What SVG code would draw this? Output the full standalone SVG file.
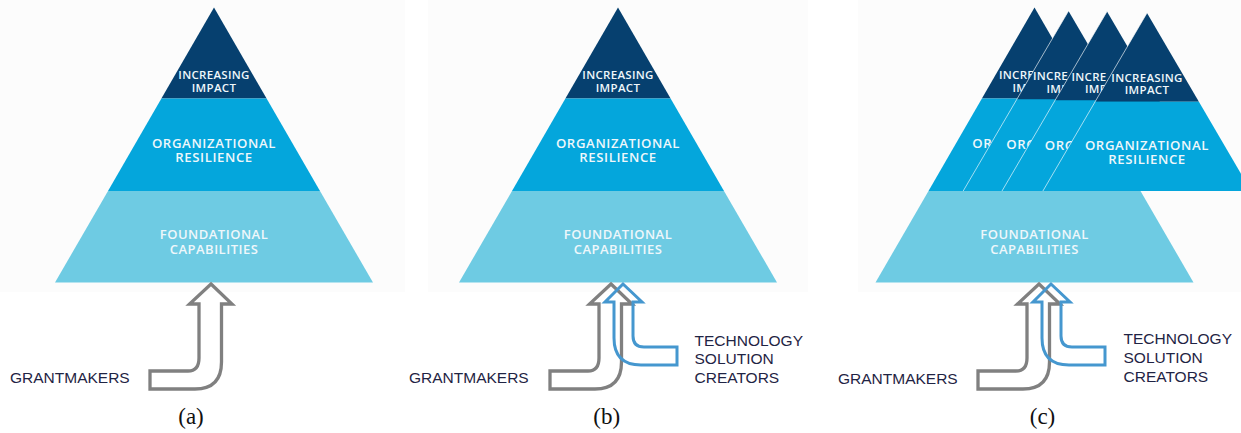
<svg xmlns="http://www.w3.org/2000/svg" width="1241" height="433" viewBox="0 0 1241 433">
  <style>
    .bg { fill: #fcfcfc; }
    .dark { fill: #06406f; }
    .mid { fill: #04a6dc; }
    .light { fill: #6ecbe3; }
    .pt { font-family: "Open Sans", "Noto Sans", sans-serif; font-weight: 600; fill: #eef7fb; text-anchor: middle; }
    .st { text-anchor: start; }
    .s1 { font-size: 11.5px; letter-spacing: 0.3px; }
    .s2 { font-size: 13.2px; letter-spacing: 0.6px; }
    .s3 { font-size: 13px; letter-spacing: 0.5px; }
    .edge { stroke: #ffffff; stroke-opacity: 0.8; stroke-width: 0.8; fill: none; }
    .lbl { font-family: "Liberation Sans", Arial, sans-serif; font-size: 15.5px; fill: #1f2444; }
    .cap { font-family: "Liberation Serif", "Times New Roman", serif; font-size: 23px; fill: #111111; text-anchor: middle; }
    .ga { fill: none; stroke: #808080; stroke-width: 3.3; stroke-linejoin: miter; }
    .ba { fill: none; stroke: #4597cf; stroke-width: 3; stroke-linejoin: miter; }
  </style>
  <defs>
    <path id="greyArrow" d="M 211 284 L 232 304 L 221.5 304 L 221.5 362 Q 221.5 389 195 389 L 150 389 L 150 371 L 188 371 Q 199 371 199 358 L 199 304 L 189.5 304 Z"/>
    <path id="blueArrow" d="M 623 284 L 642 302 L 633 302 L 633 336 Q 633 347 644 347 L 677 347 L 677 365 L 641 365 Q 614 365 614 338 L 614 302 L 605 302 Z"/>
    <g id="pyramidShape">
      <polygon class="dark" points="0,7.5 52.6,98.5 -52.6,98.5"/>
      <polygon class="mid" points="-52.6,98.5 52.6,98.5 106,191 -106,191"/>
      <polygon class="light" points="-106,191 106,191 159,282.5 -159,282.5"/>
    </g>
  </defs>

  <rect class="bg" x="0" y="0" width="405" height="292"/>
  <rect class="bg" x="428" y="0" width="380" height="292"/>
  <rect class="bg" x="858" y="0" width="383" height="292"/>

  <!-- Panel (a) -->
  <g id="pyramid-a" transform="translate(214,0)">
    <use href="#pyramidShape"/>
    <text class="pt s1" x="0" y="79">INCREASING<tspan x="0" dy="12.5">IMPACT</tspan></text>
    <text class="pt s2" x="0" y="148">ORGANIZATIONAL<tspan x="0" dy="14.3">RESILIENCE</tspan></text>
    <text class="pt s3" x="0" y="239">FOUNDATIONAL<tspan x="0" dy="15">CAPABILITIES</tspan></text>
  </g>

  <!-- Panel (b) -->
  <g id="pyramid-b" transform="translate(618,0)">
    <use href="#pyramidShape"/>
    <text class="pt s1" x="0" y="79">INCREASING<tspan x="0" dy="12.5">IMPACT</tspan></text>
    <text class="pt s2" x="0" y="148">ORGANIZATIONAL<tspan x="0" dy="14.3">RESILIENCE</tspan></text>
    <text class="pt s3" x="0" y="239">FOUNDATIONAL<tspan x="0" dy="15">CAPABILITIES</tspan></text>
  </g>

  <!-- Panel (c) -->
  <g id="pyramid-c" transform="translate(1034.5,0)">
    <use href="#pyramidShape"/>
    <text class="pt st s1" x="-35.5" y="79">INCRE<tspan x="-22" dy="12.5">IM</tspan></text>
    <text class="pt st s2" x="-62.3" y="148">OR</text>
    <text class="pt s3" x="0" y="239">FOUNDATIONAL<tspan x="0" dy="15">CAPABILITIES</tspan></text>
  </g>
  <g id="pyramid-c-copy2" transform="translate(1068.5,0)">
    <polygon class="dark" points="0,11 51.8,99.5 -51.8,99.5"/>
    <polygon class="mid" points="-51.8,99.5 51.8,99.5 105.3,191 -105.3,191"/>
    <text class="pt st s1" x="-35.5" y="80">INCRE<tspan x="-22" dy="12.5">IMP</tspan></text>
    <text class="pt st s2" x="-62.3" y="149">ORG</text>
    <line class="edge" x1="0" y1="11" x2="-105.3" y2="191"/>
  </g>
  <g id="pyramid-c-copy3" transform="translate(1107,0)">
    <polygon class="dark" points="0,11.5 52.1,100.5 -52.1,100.5"/>
    <polygon class="mid" points="-52.1,100.5 52.1,100.5 105,191 -105,191"/>
    <text class="pt st s1" x="-35.5" y="80.5">INCRE<tspan x="-22" dy="12.5">IMP</tspan></text>
    <text class="pt st s2" x="-62.3" y="149.5">ORG</text>
    <line class="edge" x1="0" y1="11.5" x2="-105" y2="191"/>
  </g>
  <g id="pyramid-c-copy4" transform="translate(1147,0)">
    <polygon class="dark" points="0,13 51.9,101.7 -51.9,101.7"/>
    <polygon class="mid" points="-51.9,101.7 51.9,101.7 104.1,191 -104.1,191"/>
    <text class="pt s1" x="0" y="81.7">INCREASING<tspan x="0" dy="12.5">IMPACT</tspan></text>
    <text class="pt s2" x="0" y="150">ORGANIZATIONAL<tspan x="0" dy="14.3">RESILIENCE</tspan></text>
    <line class="edge" x1="0" y1="13" x2="-104.1" y2="191"/>
  </g>

  <!-- Connectors (arrows) -->
  <g id="connectors">
    <use href="#greyArrow" class="ga"/>
    <use href="#greyArrow" class="ga" transform="translate(400,0)"/>
    <use href="#blueArrow" class="ba"/>
    <use href="#greyArrow" class="ga" transform="translate(828,0)"/>
    <use href="#blueArrow" class="ba" transform="translate(428,0)"/>
  </g>

  <!-- Labels -->
  <g id="label-grantmakers-a">
    <text class="lbl" x="10" y="383">GRANTMAKERS</text>
  </g>
  <g id="label-grantmakers-b">
    <text class="lbl" x="409" y="383">GRANTMAKERS</text>
  </g>
  <g id="label-tech-b">
    <text class="lbl" x="694.5" y="345.5">TECHNOLOGY<tspan x="694.5" dy="18.5">SOLUTION</tspan><tspan x="694.5" dy="19">CREATORS</tspan></text>
  </g>
  <g id="label-grantmakers-c">
    <text class="lbl" x="838" y="384">GRANTMAKERS</text>
  </g>
  <g id="label-tech-c">
    <text class="lbl" x="1123.5" y="344">TECHNOLOGY<tspan x="1123.5" dy="19">SOLUTION</tspan><tspan x="1123.5" dy="19">CREATORS</tspan></text>
  </g>

  <g id="captions">
    <text class="cap" x="191" y="424">(a)</text>
    <text class="cap" x="606.7" y="424">(b)</text>
    <text class="cap" x="1042.5" y="424">(c)</text>
  </g>
</svg>
